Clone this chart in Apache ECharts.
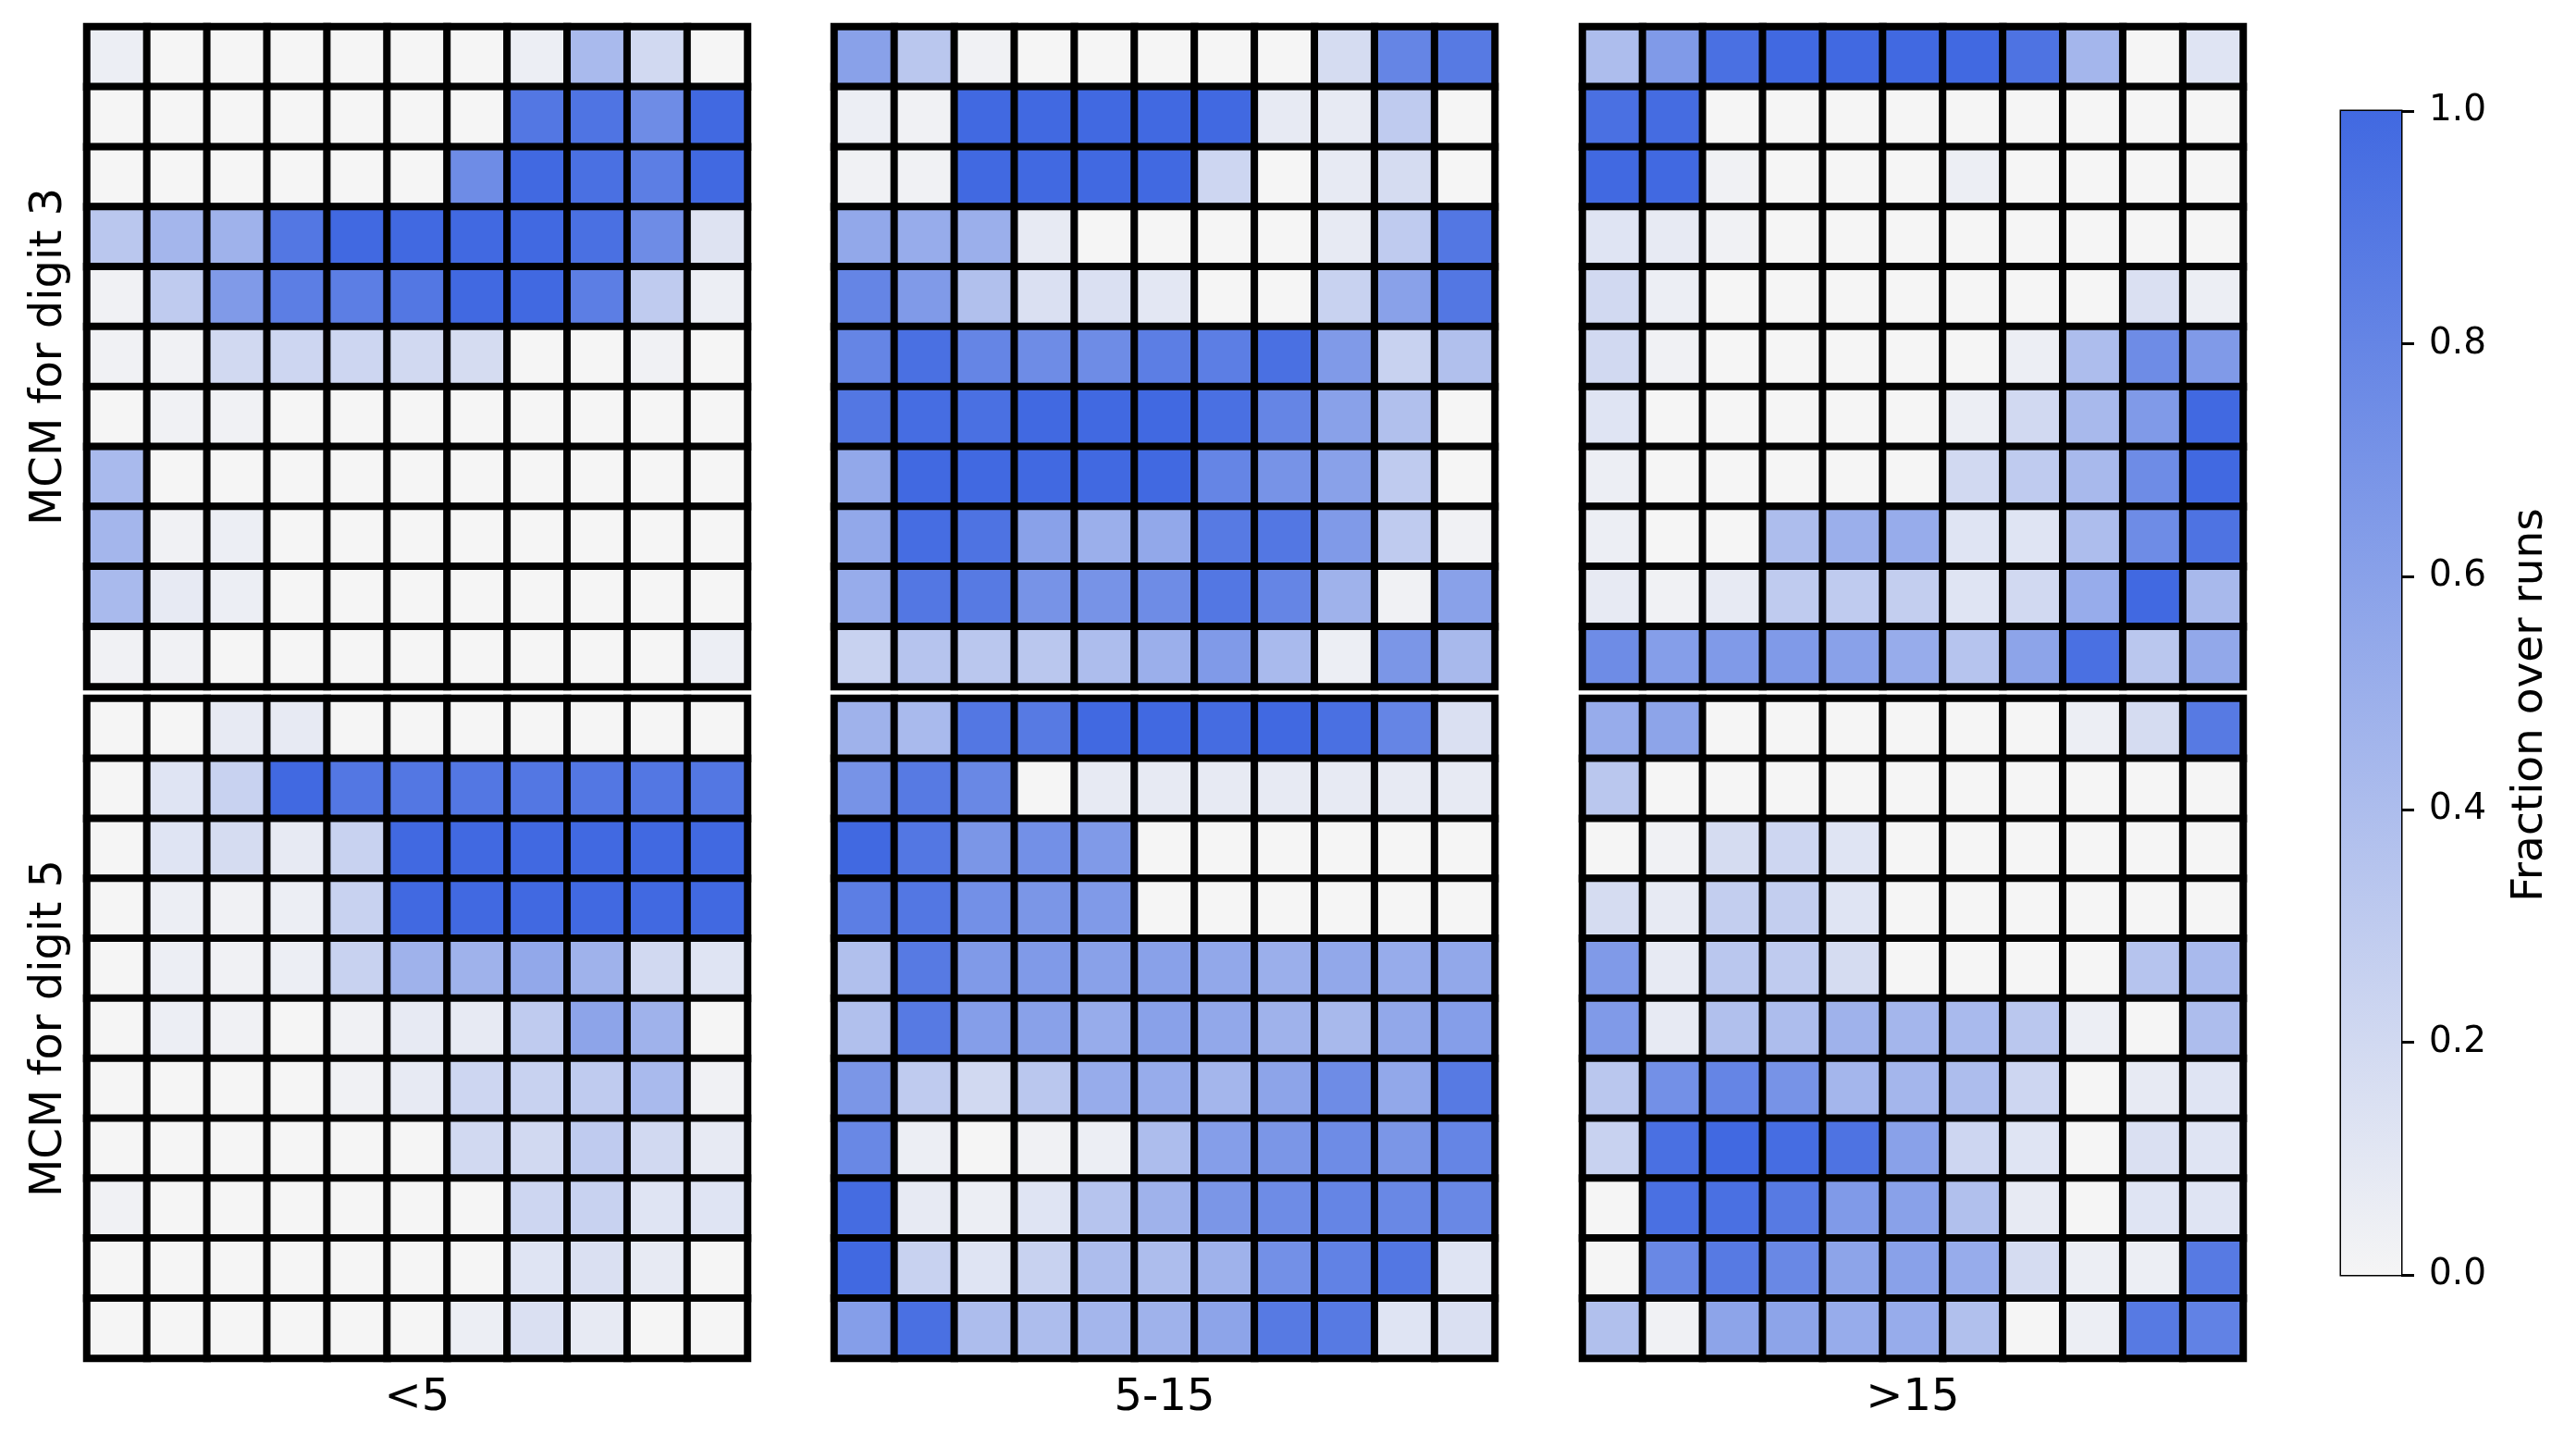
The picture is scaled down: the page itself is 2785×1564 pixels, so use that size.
<!DOCTYPE html>
<html>
<head>
<meta charset="utf-8">
<title>MCM heatmaps</title>
<script src="https://cdn.jsdelivr.net/npm/echarts@6/dist/echarts.min.js"></script>
<style>
  html, body { margin: 0; padding: 0; background: #fff; }
  #chart { width: 2785px; height: 1564px; }
</style>
</head>
<body>
<div id="chart"></div>
<script>
// column headers (bins) and row headers (digits)
var binLabels = ['<5', '5-15', '>15']
var rowLabels = ['MCM for digit 3', 'MCM for digit 5']
var cells = ['0', '1', '2', '3', '4', '5', '6', '7', '8', '9', '10']

// digit 3
var d3_lt5 = [
  [0.05, 0, 0, 0, 0, 0, 0, 0.05, 0.42, 0.2, 0],
  [0, 0, 0, 0, 0, 0, 0, 0.9, 0.92, 0.75, 1.0],
  [0, 0, 0, 0, 0, 0, 0.75, 1.0, 0.95, 0.85, 1.0],
  [0.33, 0.45, 0.48, 0.9, 1.0, 1.0, 1.0, 1.0, 0.95, 0.75, 0.13],
  [0.03, 0.3, 0.65, 0.85, 0.85, 0.9, 1.0, 1.0, 0.85, 0.3, 0.05],
  [0.03, 0.03, 0.2, 0.22, 0.22, 0.2, 0.18, 0, 0, 0.03, 0],
  [0, 0.03, 0.03, 0, 0, 0, 0, 0, 0, 0, 0],
  [0.42, 0, 0, 0, 0, 0, 0, 0, 0, 0, 0],
  [0.45, 0.03, 0.05, 0, 0, 0, 0, 0, 0, 0, 0],
  [0.42, 0.08, 0.05, 0, 0, 0, 0, 0, 0, 0, 0],
  [0.03, 0.03, 0, 0, 0, 0, 0, 0, 0, 0, 0.05]
]
var d3_mid = [
  [0.6, 0.33, 0.03, 0, 0, 0, 0, 0, 0.18, 0.8, 0.88],
  [0.05, 0.03, 1.0, 1.0, 1.0, 1.0, 1.0, 0.08, 0.08, 0.3, 0],
  [0.03, 0.03, 1.0, 1.0, 1.0, 1.0, 0.22, 0, 0.08, 0.18, 0],
  [0.55, 0.52, 0.5, 0.08, 0, 0, 0, 0, 0.08, 0.3, 0.9],
  [0.8, 0.65, 0.38, 0.15, 0.15, 0.1, 0, 0, 0.25, 0.6, 0.9],
  [0.8, 0.95, 0.8, 0.75, 0.75, 0.85, 0.85, 0.95, 0.65, 0.25, 0.38],
  [0.9, 0.97, 0.95, 1.0, 1.0, 1.0, 0.95, 0.8, 0.6, 0.38, 0],
  [0.55, 1.0, 1.0, 1.0, 1.0, 1.0, 0.8, 0.7, 0.6, 0.3, 0],
  [0.55, 0.97, 0.93, 0.6, 0.5, 0.55, 0.88, 0.9, 0.65, 0.3, 0.03],
  [0.52, 0.9, 0.88, 0.7, 0.7, 0.75, 0.9, 0.8, 0.48, 0.03, 0.6],
  [0.25, 0.35, 0.33, 0.33, 0.4, 0.5, 0.65, 0.42, 0.05, 0.68, 0.43]
]
var d3_gt15 = [
  [0.4, 0.65, 0.95, 1.0, 1.0, 1.0, 1.0, 0.93, 0.45, 0, 0.12],
  [0.95, 0.98, 0, 0, 0, 0, 0, 0, 0, 0, 0],
  [1.0, 1.0, 0.03, 0, 0, 0, 0.05, 0, 0, 0, 0],
  [0.12, 0.08, 0.03, 0, 0, 0, 0, 0, 0, 0, 0],
  [0.2, 0.05, 0, 0, 0, 0, 0, 0, 0, 0.15, 0.05],
  [0.2, 0.03, 0, 0, 0, 0, 0, 0.05, 0.4, 0.75, 0.65],
  [0.12, 0, 0, 0, 0, 0, 0.05, 0.2, 0.43, 0.65, 1.0],
  [0.05, 0, 0, 0, 0, 0, 0.2, 0.3, 0.43, 0.75, 1.0],
  [0.05, 0, 0, 0.4, 0.5, 0.52, 0.12, 0.12, 0.4, 0.75, 0.93],
  [0.08, 0.03, 0.08, 0.3, 0.3, 0.28, 0.12, 0.2, 0.52, 1.0, 0.43],
  [0.75, 0.62, 0.65, 0.65, 0.6, 0.52, 0.35, 0.58, 0.95, 0.33, 0.55]
]

// digit 5
var d5_lt5 = [
  [0, 0, 0.08, 0.08, 0, 0, 0, 0, 0, 0, 0],
  [0, 0.12, 0.25, 1.0, 0.9, 0.9, 0.9, 0.9, 0.9, 0.9, 0.9],
  [0, 0.12, 0.18, 0.08, 0.25, 1.0, 1.0, 1.0, 1.0, 1.0, 1.0],
  [0, 0.05, 0.03, 0.05, 0.25, 1.0, 1.0, 1.0, 1.0, 1.0, 1.0],
  [0, 0.05, 0.03, 0.05, 0.25, 0.48, 0.48, 0.55, 0.48, 0.2, 0.12],
  [0, 0.05, 0.03, 0, 0.03, 0.08, 0.08, 0.3, 0.58, 0.48, 0],
  [0, 0, 0, 0, 0.03, 0.08, 0.22, 0.25, 0.3, 0.42, 0.03],
  [0, 0, 0, 0, 0, 0, 0.2, 0.2, 0.3, 0.2, 0.08],
  [0.03, 0, 0, 0, 0, 0, 0, 0.22, 0.25, 0.12, 0.12],
  [0, 0, 0, 0, 0, 0, 0, 0.12, 0.15, 0.08, 0],
  [0, 0, 0, 0, 0, 0, 0.05, 0.15, 0.08, 0, 0]
]
var d5_mid = [
  [0.48, 0.42, 0.9, 0.88, 1.0, 1.0, 0.98, 1.0, 0.95, 0.8, 0.15],
  [0.7, 0.88, 0.78, 0, 0.08, 0.08, 0.08, 0.08, 0.08, 0.08, 0.08],
  [1.0, 0.9, 0.68, 0.72, 0.65, 0, 0, 0, 0, 0, 0],
  [0.85, 0.9, 0.72, 0.68, 0.65, 0, 0, 0, 0, 0, 0],
  [0.38, 0.88, 0.65, 0.65, 0.6, 0.6, 0.55, 0.5, 0.55, 0.52, 0.55],
  [0.38, 0.88, 0.62, 0.6, 0.52, 0.6, 0.55, 0.48, 0.43, 0.55, 0.62],
  [0.68, 0.3, 0.2, 0.33, 0.52, 0.52, 0.45, 0.58, 0.75, 0.55, 0.88],
  [0.78, 0.05, 0, 0.03, 0.05, 0.4, 0.62, 0.68, 0.75, 0.68, 0.8],
  [0.98, 0.08, 0.05, 0.12, 0.35, 0.48, 0.68, 0.75, 0.8, 0.78, 0.78],
  [1.0, 0.25, 0.12, 0.25, 0.4, 0.4, 0.48, 0.72, 0.82, 0.9, 0.12],
  [0.62, 0.95, 0.4, 0.4, 0.45, 0.48, 0.58, 0.88, 0.88, 0.12, 0.15]
]
var d5_gt15 = [
  [0.52, 0.58, 0, 0, 0, 0, 0, 0, 0.05, 0.18, 0.88],
  [0.33, 0, 0, 0, 0, 0, 0, 0, 0, 0, 0],
  [0, 0.03, 0.18, 0.22, 0.12, 0, 0, 0, 0, 0, 0],
  [0.18, 0.08, 0.28, 0.28, 0.12, 0, 0, 0, 0, 0, 0],
  [0.65, 0.08, 0.33, 0.3, 0.18, 0, 0, 0, 0, 0.35, 0.42],
  [0.65, 0.08, 0.38, 0.4, 0.48, 0.45, 0.42, 0.33, 0.05, 0, 0.4],
  [0.33, 0.72, 0.8, 0.7, 0.45, 0.45, 0.4, 0.22, 0, 0.08, 0.12],
  [0.25, 0.95, 1.0, 0.97, 0.93, 0.6, 0.22, 0.12, 0, 0.15, 0.12],
  [0, 0.95, 0.95, 0.88, 0.65, 0.6, 0.38, 0.08, 0, 0.12, 0.12],
  [0, 0.78, 0.88, 0.78, 0.58, 0.6, 0.52, 0.18, 0.05, 0.05, 0.88],
  [0.38, 0.03, 0.58, 0.58, 0.52, 0.52, 0.38, 0, 0.05, 0.88, 0.82]
]

var panels = [d3_lt5, d3_mid, d3_gt15, d5_lt5, d5_mid, d5_gt15]

var lowColor = '#f5f5f5'
var highColor = '#4169e1'
var font = 'DejaVu Sans'

// matrix rows -> [col,row,value]
function toHeat(m) {
  var out = []
  m.forEach(function (row, r) {
    row.forEach(function (v, c) { out.push([c, r, v]) })
  })
  return out
}

var lefts = [94, 902, 1711]
var tops = [29, 755]

var grid = [], xAxis = [], yAxis = [], series = []
panels.forEach(function (m, i) {
  var col = i % 3, row = Math.floor(i / 3)
  grid.push({
    left: lefts[col], top: tops[row], width: 714, height: 713,
    show: true, borderColor: '#000', borderWidth: 8
  })
  xAxis.push({
    type: 'category', gridIndex: i, data: cells,
    axisLine: { show: false }, axisTick: { show: false }, axisLabel: { show: false },
    splitLine: { show: false },
    name: row === 1 ? binLabels[col] : '',
    nameLocation: 'middle', nameGap: 20,
    nameTextStyle: { fontSize: 48, color: '#000', fontFamily: font }
  })
  yAxis.push({
    type: 'category', gridIndex: i, data: cells, inverse: true,
    axisLine: { show: false }, axisTick: { show: false }, axisLabel: { show: false },
    splitLine: { show: false },
    name: col === 0 ? rowLabels[row] : '',
    nameLocation: 'middle', nameGap: 16, nameRotate: 90,
    nameTextStyle: { fontSize: 48, color: '#000', fontFamily: font }
  })
  series.push({
    type: 'heatmap', xAxisIndex: i, yAxisIndex: i,
    data: toHeat(m),
    itemStyle: { borderColor: '#000', borderWidth: 8 },
    emphasis: { disabled: true }
  })
})

// colorbar
grid.push({ left: 2531, top: 120, width: 65, height: 1258, show: true, borderColor: '#000', borderWidth: 3 })
xAxis.push({ type: 'category', gridIndex: 6, data: ['cb'], show: false })
yAxis.push({
  type: 'value', gridIndex: 6, position: 'right', min: 0, max: 1, interval: 0.2,
  axisLine: { show: false },
  axisTick: { show: true, length: 14, lineStyle: { color: '#000', width: 3 } },
  splitLine: { show: false },
  axisLabel: {
    margin: 30, fontSize: 39, color: '#000', fontFamily: font,
    formatter: function (v) { return v.toFixed(1) }
  },
  name: 'Fraction over runs', nameLocation: 'middle', nameRotate: 90, nameGap: 116,
  nameTextStyle: { fontSize: 47, color: '#000', fontFamily: font, padding: [0, 26, 0, 0] }
})
series.push({
  type: 'bar', xAxisIndex: 6, yAxisIndex: 6, data: [1], barWidth: '100%',
  silent: true,
  itemStyle: {
    color: new echarts.graphic.LinearGradient(0, 0, 0, 1, [
      { offset: 0, color: highColor }, { offset: 1, color: lowColor }
    ])
  }
})

var myChart = echarts.init(document.getElementById('chart'))
myChart.setOption({
  animation: false,
  backgroundColor: '#fff',
  grid: grid,
  xAxis: xAxis,
  yAxis: yAxis,
  visualMap: {
    type: 'continuous', show: false, min: 0, max: 1,
    seriesIndex: [0, 1, 2, 3, 4, 5],
    inRange: { color: [lowColor, highColor] }
  },
  series: series
})
</script>
</body>
</html>
